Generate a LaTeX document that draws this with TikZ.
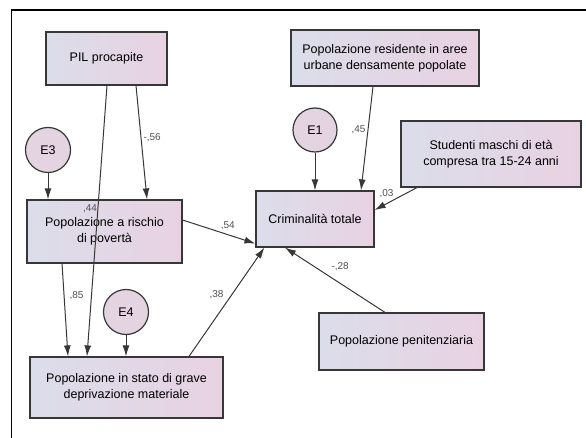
\documentclass[tikz,border=0pt]{standalone}
\usepackage{fontspec}
\setmainfont{Liberation Sans}
\usetikzlibrary{arrows.meta}

\begin{document}
\begin{tikzpicture}[x=1pt,y=-1pt,
    box/.style={draw=boxline, line width=1.2pt, left color=boxleft, right color=boxright, inner sep=0pt, align=center, font=\fontsize{12.5}{16}\selectfont},
    err/.style={circle, draw=boxline, line width=1.2pt, fill=errfill, minimum size=45pt, inner sep=0pt, font=\fontsize{12.5}{15}\selectfont},
    pfeil/.style={-{Latex[length=11pt,width=7pt]}, line width=1pt, draw=boxline},
    koeff/.style={font=\fontsize{10}{12}\selectfont, text=koeffgray, inner sep=2pt}]

\definecolor{boxleft}{RGB}{220,221,234}
\definecolor{boxright}{RGB}{232,210,226}
\definecolor{errfill}{RGB}{228,212,225}
\definecolor{boxline}{RGB}{55,55,55}
\definecolor{koeffgray}{RGB}{80,80,80}

    \useasboundingbox (0,0) rectangle (586,438);

    %Rahmen
    \draw[line width=1.2pt] (11.5,438) -- (11.5,10) -- (586,10);

    %Kaesten
    \node[box, minimum width=121pt, minimum height=53pt] (pil) at (106.5,58.5) {PIL procapite};
    \node[box, minimum width=188pt, minimum height=56pt] (resid) at (385,58) {Popolazione residente in aree\\urbane densamente popolate};
    \node[box, minimum width=180pt, minimum height=66pt] (stud) at (491,154) {Studenti maschi di età\\compresa tra 15-24 anni};
    \node[box, minimum width=118pt, minimum height=56pt] (crim) at (315,219) {Criminalità totale};
    \node[box, minimum width=155pt, minimum height=63pt] (rischio) at (104.5,231.5) {Popolazione a rischio\\di povertà};
    \node[box, minimum width=193pt, minimum height=61pt] (grave) at (126.5,387.5) {Popolazione in stato di grave\\deprivazione materiale};
    \node[box, minimum width=165pt, minimum height=57pt] (penit) at (401.5,341.5) {Popolazione penitenziaria};

    %Fehlerterme
    \node[err] (e3) at (48,150) {E3};
    \node[err, minimum size=44pt] (e1) at (315,130) {E1};
    \node[err] (e4) at (126,312) {E4};

    %Pfeile
    \draw[pfeil] (e3.south) -- (e3.south |- rischio.north);
    \draw[pfeil] (e1.south) -- (e1.south |- crim.north);
    \draw[pfeil] (e4.south) -- (e4.south |- grave.north);

    \draw[pfeil] ([xshift=29.5pt]pil.south) -- node[koeff, right, pos=0.46] {-,56} ([xshift=42.5pt]rischio.north);
    \draw[pfeil] ([xshift=0.5pt]pil.south) -- node[koeff, anchor=south east, pos=0.48, xshift=2pt] {,44} ([xshift=-39.5pt]grave.north);
    \draw[pfeil] ([xshift=-42.5pt]rischio.south) -- node[koeff, right, pos=0.34, xshift=3pt] {,85} ([xshift=-58.5pt]grave.north);
    \draw[pfeil] ([yshift=11.5pt]rischio.east) -- node[koeff, above, pos=0.62, yshift=2pt] {,54} ([yshift=4pt]crim.south west);
    \draw[pfeil] ([xshift=62.5pt]grave.north) -- node[koeff, left, pos=0.57, xshift=-6pt] {,38} ([xshift=9pt]crim.south west);
    \draw[pfeil] ([xshift=-12pt]resid.south) -- node[koeff, left, pos=0.42] {,45} ([xshift=46pt]crim.north);
    \draw[pfeil] ([xshift=-74pt]stud.south) -- node[koeff, above, pos=0.72, yshift=3pt] {,03} ([yshift=9pt]crim.east);
    \draw[pfeil] ([xshift=-16.5pt]penit.north) -- node[koeff, above right, pos=0.6, xshift=4pt] {-,28} ([xshift=-30pt]crim.south);

\end{tikzpicture}
\end{document}
